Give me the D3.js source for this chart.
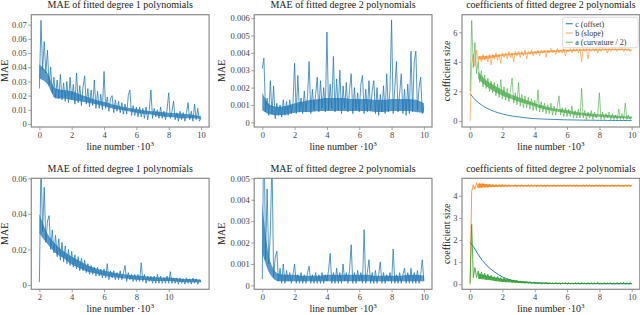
<!DOCTYPE html>
<html>
<head>
<meta charset="utf-8">
<script src="https://cdn.jsdelivr.net/npm/d3@7"></script>
<style>
  body { margin: 0; background: #fff; }
  svg { display: block; }
  text { font-family: "Liberation Serif", "Times New Roman", serif; }
</style>
</head>
<body>
<svg id="chart" width="640" height="315"></svg>
<script>
// ---- data (line number in units of 10^3) ----
// top row, MAE of degree 1 fits, values x 1e-3, lines 0..10
const topDeg1Mae = [25,73,38,58,36,52,27,40,22,33,
  19,31,18,35,17,29,16,30,15,33,
  17,28,14,36,15,27,13,26,34,14,
  25,12,24,13,31,11,23,11,21,10,
  37,11,19,9,18,20,8,17,9,16,
  8,15,7,14,7,20,24,6,13,6,
  12,5,12,5,11,4,12,3,10,24,
  4,11,5,10,4,12,4,9,3,10,
  22,4,9,16,3,8,2,9,3,8,
  2,8,15,3,9,2,14,3,11,2,
  4];
// dense core of the noise (every 0.5), x 1e-3
const topDeg1Lo = [32,28,18,18,17,16,15,14,12.5,11,10,9,8,7,6.5,5.5,5,4.5,4,4,3.5];
const topDeg1Hi = [42,36,25,24,23,21,19,17,15.5,14,12.5,11.5,10.5,9.5,9,8.5,8,7.5,7,6.5,5.5];

// top row, MAE of degree 2 fits, values x 1e-4
const topDeg2Mae = [31,37,6,14,4,24,5,21,2,11,
  4,10,3,13,4,12,4,13,5,11,
  34,5,27,6,14,5,18,6,15,35,
  5,19,7,16,26,6,24,8,20,6,
  52,7,22,8,38,6,25,7,30,5,
  21,8,23,6,19,28,5,20,7,17,
  6,22,27,5,19,6,24,7,18,24,
  5,20,4,16,6,21,5,28,6,19,
  59,5,20,35,6,17,28,5,19,4,
  22,5,41,6,35,41,7,20,26,5,
  9];
const topDeg2Lo = [7,4.5,4,4.5,5.5,6,6,6.5,6.5,6.5,6.5,6.5,6.5,6.5,6,6,6.5,6.5,6.5,6,5.5];
const topDeg2Hi = [17,10,9,9.5,11,12,13,13.5,14,14,14,13.5,13.5,13.5,13,13,13.5,13.5,13.5,13,11];

// top row coefficients
const topCoefC = [1.85,1.5,1.25,1.05,0.88,0.75,0.64,0.55,0.47,0.41,
  0.35,0.31,0.27,0.24,0.21,0.18,0.16,0.14,0.13,0.12,
  0.11,0.1,0.09,0.08,0.075,0.07,0.065,0.06,0.055,0.05,
  0.05,0.045,0.04,0.04,0.035,0.035,0.03,0.03,0.03,0.025,
  0.025];
const topCoefB = [0,3.9,4.5,3.7,4.8,4.0,4.4,4.0,4.5,4.1,
  4.4,4.0,4.5,3.8,4.5,4.2,4.6,4.1,4.5,3.9,
  4.6,4.3,4.6,4.2,4.7,4.3,4.6,4.0,4.7,4.4,
  4.7,4.3,4.7,4.4,4.8,4.2,4.7,4.5,4.8,4.4,
  4.7,4.5,4.8,4.4,4.8,4.6,4.8,4.3,4.8,4.6,
  4.9,4.6,4.8,4.5,4.9,4.6,4.8,4.6,4.9,4.4,
  4.8,4.7,4.9,4.6,4.9,4.7,4.9,4.6,4.9,4.0,
  4.9,4.7,4.9,4.2,4.9,4.7,4.9,4.7,4.9,4.6,
  4.9,4.7,4.9,4.8,4.9,4.6,4.9,4.7,4.9,4.8,
  4.9,4.7,4.9,4.8,4.9,4.7,4.9,4.8,4.9,4.7,
  4.8];
// cores from line 0.5 to 10, every 0.5
const topCoefBLo = [4.15,4.2,4.3,4.4,4.45,4.5,4.52,4.58,4.62,4.65,4.68,4.7,4.73,4.75,4.76,4.77,4.78,4.78,4.78,4.77];
const topCoefBHi = [4.4,4.42,4.47,4.52,4.57,4.62,4.64,4.7,4.74,4.76,4.8,4.82,4.83,4.86,4.86,4.87,4.88,4.88,4.88,4.84];
const topCoefA = [2.0,6.8,3.6,5.3,3.2,4.0,2.6,3.4,2.3,3.1,
  2.2,2.9,2.0,2.7,1.9,2.6,1.7,2.5,1.6,2.8,
  1.5,2.3,1.4,2.2,1.3,2.1,2.9,1.2,1.9,1.1,
  2.6,1.0,1.8,0.9,1.7,0.9,1.6,0.8,1.5,0.7,
  1.4,0.7,2.1,0.6,1.3,0.6,1.2,0.5,1.1,0.5,
  1.2,0.4,1.0,0.4,1.0,1.7,0.4,0.9,0.3,0.9,
  0.3,0.8,0.3,1.0,0.2,0.7,0.2,0.8,0.2,2.2,
  0.2,0.7,0.1,0.6,0.2,0.7,0.1,0.6,0.2,0.5,
  1.9,0.1,0.6,0.1,0.5,0.2,0.6,0.1,0.5,0.1,
  0.4,0.1,0.8,0.1,0.5,0.1,1.2,0.1,0.4,0.1,
  0.3];
const topCoefALo = [2.85,2.35,2.0,1.7,1.5,1.3,1.15,1.0,0.8,0.7,0.6,0.52,0.42,0.36,0.3,0.28,0.24,0.2,0.18,0.15];
const topCoefAHi = [3.35,2.75,2.4,2.1,1.8,1.6,1.4,1.2,1.05,0.9,0.8,0.72,0.63,0.55,0.5,0.45,0.41,0.37,0.32,0.3];

// bottom row, MAE of degree 1 fits, values x 1e-3, lines 2..12
const botDeg1Mae = [1.7,70,30,55,24,36,39,20,31,18,
  28,16,26,14,24,13,22,12,20,11,
  19,10,17,9,16,8,15,8,14,7,
  12,6,11,6,10,5,10,5,9,4,
  9,4,12,3,8,4,8,3,7,3,
  8,3,7,11,2,7,3,6,2,6,
  2,6,2,12.5,2,6,1,5,2,5,
  1,5,1,6,1,5,1,4,1,5,
  1,7.5,1,4,1,4,0.5,4,1,3.5,
  0.5,4,1,3.5,0.5,4,1,3.5,0.5,3,
  1.5];
const botDeg1Lo = [29,23,18,15,11.5,9.5,7.5,6.5,5.2,4.5,4,3.5,3,2.8,2.3,2.2,2.2,1.8,1.6,1.6,1.5];
const botDeg1Hi = [40,29,23,19,16,13.5,11,9.5,8,7.2,6.3,5.8,5.3,5,4.5,4.2,4.2,3.8,3.4,3.4,3];

// bottom row, MAE of degree 2 fits, values x 1e-4
const botDeg2Mae = [3,80,12,45,10,25,60,4,13,16,
  2,8,1,10,1,7,2,6,1,5,
  10,1,5,1,6,1,5,1,6,9,
  1,5,1,6,1,5,1,6,1,5,
  2,7,15,1,6,1,8,1,6,1,
  10,2,6,1,7,19,1,6,1,7,
  2,6,1,26,1,6,12,1,6,1,
  7,1,5,11,1,6,1,5,2,6,
  1,17,1,5,1,6,1,5,8,1,
  6,1,8,1,6,1,7,1,5,12,
  2];
const botDeg2Lo = [15,5,2,2,2,2,2,2,2,2,2,2,2,2,2,2,2,2,2,2,2];
const botDeg2Hi = [38,11,5.5,5,5,4.5,4.5,4.5,5,5,5,5,5,5,4.5,4.5,4.5,4.5,5,5,4.5];

// bottom row coefficients
const botCoefC = [1.9,1.65,1.35,1.08,0.87,0.7,0.56,0.44,0.33,0.25,
  0.19,0.15,0.12,0.1,0.08,0.07,0.06,0.055,0.05,0.045,
  0.04,0.038,0.036,0.034,0.032,0.03,0.029,0.028,0.027,0.026,
  0.025,0.024,0.023,0.022,0.022,0.021,0.021,0.02,0.02,0.02,
  0.02];
const botCoefB = [0.1,4.2,4.5,4.3,4.58,4.35,4.55,4.36,4.56,4.38,
  4.52,4.38,4.53,4.4,4.51,4.4,4.5,4.41,4.5,4.4,
  4.51,
  4.42,4.49,4.41,4.5,4.43,4.48,4.42,4.51,4.41,4.49,
  4.43,4.5,4.42,4.48,4.41,4.5,4.43,4.49,4.42,4.5,
  4.42,4.49,4.43,4.5,4.41,4.48,4.42,4.5,4.43,4.49,
  4.42,4.5,4.41,4.49,4.43,4.48,4.42,4.5,4.41,4.49,
  4.43,4.5,4.42,4.48,4.41,4.5,4.43,4.49,4.42,4.5,
  4.42,4.49,4.43,4.5,4.41,4.48,4.42,4.5,4.43,4.49,
  4.42,4.5,4.41,4.49,4.43,4.48,4.42,4.5,4.41,4.49,
  4.43,4.5,4.42,4.48,4.41,4.5,4.43,4.49,4.42,4.48];
const botCoefBLo = [4.36,4.38,4.4,4.41,4.42,4.42,4.42,4.42,4.42,4.42,4.42,4.42,4.42,4.42,4.42,4.42,4.42,4.42,4.42,4.42];
const botCoefBHi = [4.55,4.52,4.5,4.5,4.49,4.49,4.49,4.49,4.49,4.49,4.49,4.49,4.49,4.49,4.49,4.49,4.49,4.49,4.49,4.48];
const botCoefA = [0,2.7,0.3,0.75,0.3,0.6,0.25,0.55,0.3,0.5,
  0.2,0.45,0.2,0.4,0.2,0.35,0.15,0.35,0.15,0.3,
  0.12,0.28,0.1,0.25,0.1,0.22,0.08,0.2,0.07,0.18,
  0.06,0.15,0.05,0.14,0.04,0.12,0.04,0.11,0.03,0.1,
  0.02,
  0.07,0.01,0.08,0.0,0.06,0.01,0.09,0.0,0.07,0.02,
  0.06,0.0,0.08,0.01,0.07,0.0,0.06,0.02,0.08,0.0,
  0.07,0.01,0.06,0.0,0.08,0.01,0.06,0.0,0.07,0.02,
  0.06,0.0,0.07,0.01,0.08,0.0,0.06,0.01,0.09,0.0,
  0.06,0.01,0.07,0.0,0.06,0.02,0.07,0.0,0.06,0.01,
  0.07,0.0,0.06,0.01,0.08,0.0,0.06,0.01,0.07,0.02];
const botCoefALo = [0.25,0.2,0.15,0.1,0.08,0.06,0.04,0.03,0.02,0.01,0.01,0.01,0.01,0.01,0.01,0.01,0.01,0.01,0.01,0.01];
const botCoefAHi = [0.5,0.4,0.32,0.25,0.2,0.15,0.12,0.09,0.07,0.06,0.05,0.05,0.05,0.05,0.05,0.05,0.05,0.05,0.05,0.05];

// ticks
const xTicksMain = [0, 2, 4, 6, 8, 10];
const xTicksShifted = [2, 4, 6, 8, 10];
const yTicksTopDeg1 = [0, 0.01, 0.02, 0.03, 0.04, 0.05, 0.06, 0.07];
const yTicksTopDeg2 = [0, 0.001, 0.002, 0.003, 0.004, 0.005, 0.006];
const yTicksTopCoef = [0, 2, 4, 6];
const yTicksBotDeg1 = [0, 0.02, 0.04, 0.06];
const yTicksBotDeg2 = [0, 0.001, 0.002, 0.003, 0.004, 0.005];
const yTicksBotCoef = [0, 1, 2, 3, 4];

const legendLabels = ["c (offset)", "b (slope)", "a (curvature / 2)"];

const BLUE = "#1f77b4", ORANGE = "#ff7f0e", GREEN = "#2ca02c";
const SPINE = "#8a8a8a";

const svg = d3.select("#chart");
const colLeft = [31.3, 254.2, 462];
const panelW = 177.8;
const rowTop = [14.7, 178.3];
const panelH = [112.3, 111];

const zeroFmt = f => d => d === 0 ? "0" : d3.format(f)(d);

function drawPanel(p) {
  const left = colLeft[p.col], top = rowTop[p.row], h = panelH[p.row];
  const x = d3.scaleLinear().domain(p.xDomain).range([left, left + panelW]);
  const y = d3.scaleLinear().domain(p.yDomain).range([top + h, top]);
  const g = svg.append("g");

  const clipId = "clip-" + p.row + "-" + p.col;
  g.append("clipPath").attr("id", clipId)
    .append("rect").attr("x", left).attr("y", top).attr("width", panelW).attr("height", h);

  const posOf = (span, n) => i => span[0] + i * (span[1] - span[0]) / (n - 1);

  p.series.forEach(s => {
    // dense core of the noisy trace
    if (s.lo) {
      const px = posOf(s.bandSpan, s.lo.length);
      const area = d3.area()
        .x((d, i) => x(px(i)))
        .y0((d, i) => y(s.lo[i] * s.unit))
        .y1((d, i) => y(s.hi[i] * s.unit))
        .curve(d3.curveMonotoneX);
      g.append("path")
        .attr("clip-path", `url(#${clipId})`)
        .attr("d", area(s.lo))
        .attr("fill", s.color)
        .attr("fill-opacity", s.bandOpacity || 0.75);
    }
    const px = posOf(s.span, s.values.length);
    const line = d3.line()
      .x((d, i) => x(px(i)))
      .y(d => y(d * s.unit));
    g.append("path")
      .attr("clip-path", `url(#${clipId})`)
      .attr("d", line(s.values))
      .attr("fill", "none")
      .attr("stroke", s.color)
      .attr("stroke-width", s.width || 1)
      .attr("stroke-opacity", s.opacity || 1)
      .attr("stroke-linejoin", "round");
  });

  // axes
  const xAxis = d3.axisBottom(x).tickValues(p.xTicks).tickSize(3).tickPadding(2).tickFormat(d3.format("d"));
  const yAxis = d3.axisLeft(y).tickValues(p.yTicks).tickSize(3).tickPadding(1.5).tickFormat(p.yFormat);

  const gx = g.append("g").attr("transform", `translate(0,${top + h})`).call(xAxis);
  const gy = g.append("g").attr("transform", `translate(${left},0)`).call(yAxis);
  [gx, gy].forEach(a => {
    a.select(".domain").remove();
    a.selectAll(".tick line").attr("stroke", SPINE).attr("stroke-width", 0.8);
    a.selectAll(".tick text").attr("fill", "#444").style("font-size", "8.5px")
      .style("font-family", '"Liberation Serif", serif');
  });

  // frame
  g.append("rect")
    .attr("x", left).attr("y", top).attr("width", panelW).attr("height", h)
    .attr("fill", "none").attr("stroke", SPINE).attr("stroke-width", 1.2);

  // title
  g.append("text")
    .attr("x", left + panelW / 2).attr("y", top - 6.4)
    .attr("text-anchor", "middle").attr("fill", "#222")
    .style("font-size", "10px").text(p.title);

  // x label
  const xl = g.append("text")
    .attr("x", left + panelW / 2).attr("y", top + h + 23)
    .attr("text-anchor", "middle").attr("fill", "#222")
    .style("font-size", "10px").text("line number \u00b710");
  xl.append("tspan").attr("dy", -4).style("font-size", "7px").text("3");

  // y label
  g.append("text")
    .attr("transform", `translate(${p.yLabelX},${top + h / 2}) rotate(-90)`)
    .attr("text-anchor", "middle").attr("dy", "0.35em").attr("fill", "#222")
    .style("font-size", "10px").text(p.yLabel);

  if (p.legend) {
    const lx = 562.7, ly = 17.3;
    g.append("rect").attr("x", lx).attr("y", ly).attr("width", 75.5).attr("height", 30.4)
      .attr("rx", 2).attr("fill", "#fff").attr("fill-opacity", 0.85)
      .attr("stroke", "#d0d0d0").attr("stroke-width", 0.8);
    p.series.forEach((s, i) => {
      const cy = ly + 6.4 + i * 9.3;
      g.append("line").attr("x1", lx + 3).attr("x2", lx + 10).attr("y1", cy).attr("y2", cy)
        .attr("stroke", s.color).attr("stroke-width", 1.2).attr("stroke-opacity", s.opacity || 1);
      g.append("text").attr("x", lx + 12.5).attr("y", cy).attr("dy", "0.35em")
        .attr("fill", "#333").style("font-size", "8px").text(legendLabels[i]);
    });
  }
}

const mainSpan = [0, 10];
const mainDomain = [-0.5, 10.5];
const coreSpan = [0.5, 10];

drawPanel({
  row: 0, col: 0, title: "MAE of fitted degree 1 polynomials", yLabel: "MAE", yLabelX: 4.5,
  xDomain: mainDomain, yDomain: [-0.0021, 0.077], xTicks: xTicksMain, yTicks: yTicksTopDeg1, yFormat: zeroFmt(".2f"),
  series: [{ values: topDeg1Mae, lo: topDeg1Lo, hi: topDeg1Hi, bandSpan: mainSpan, unit: 1e-3, span: mainSpan,
             color: BLUE, width: 0.9, opacity: 0.85 }]
});
drawPanel({
  row: 0, col: 1, title: "MAE of fitted degree 2 polynomials", yLabel: "MAE", yLabelX: 221.7,
  xDomain: mainDomain, yDomain: [-0.00027, 0.0062], xTicks: xTicksMain, yTicks: yTicksTopDeg2, yFormat: zeroFmt(".3f"),
  series: [{ values: topDeg2Mae, lo: topDeg2Lo, hi: topDeg2Hi, bandSpan: mainSpan, unit: 1e-4, span: mainSpan,
             color: BLUE, width: 0.9, opacity: 0.85 }]
});
drawPanel({
  row: 0, col: 2, title: "coefficients of fitted degree 2 polynomials", yLabel: "coefficient size", yLabelX: 446.7,
  xDomain: mainDomain, yDomain: [-0.41, 7.19], xTicks: xTicksMain, yTicks: yTicksTopCoef, yFormat: d3.format("d"),
  legend: true,
  series: [
    { values: topCoefC, unit: 1, span: mainSpan, color: BLUE, width: 1, opacity: 0.85 },
    { values: topCoefB, lo: topCoefBLo, hi: topCoefBHi, bandSpan: coreSpan, bandOpacity: 0.6,
      unit: 1, span: mainSpan, color: ORANGE, width: 0.9, opacity: 0.6 },
    { values: topCoefA, lo: topCoefALo, hi: topCoefAHi, bandSpan: coreSpan, bandOpacity: 0.6,
      unit: 1, span: mainSpan, color: GREEN, width: 0.9, opacity: 0.6 }
  ]
});
drawPanel({
  row: 1, col: 0, title: "MAE of fitted degree 1 polynomials", yLabel: "MAE", yLabelX: 4.2,
  xDomain: [1.5, 12.5], yDomain: [-0.0024, 0.06], xTicks: xTicksShifted, yTicks: yTicksBotDeg1, yFormat: zeroFmt(".2f"),
  series: [{ values: botDeg1Mae, lo: botDeg1Lo, hi: botDeg1Hi, bandSpan: [2, 12], unit: 1e-3, span: [2, 12],
             color: BLUE, width: 0.9, opacity: 0.85 }]
});
drawPanel({
  row: 1, col: 1, title: "MAE of fitted degree 2 polynomials", yLabel: "MAE", yLabelX: 221.7,
  xDomain: mainDomain, yDomain: [-0.00018, 0.005], xTicks: xTicksMain, yTicks: yTicksBotDeg2, yFormat: zeroFmt(".3f"),
  series: [{ values: botDeg2Mae, lo: botDeg2Lo, hi: botDeg2Hi, bandSpan: mainSpan, unit: 1e-4, span: mainSpan,
             color: BLUE, width: 0.9, opacity: 0.85 }]
});
drawPanel({
  row: 1, col: 2, title: "coefficients of fitted degree 2 polynomials", yLabel: "coefficient size", yLabelX: 446.7,
  xDomain: mainDomain, yDomain: [-0.23, 4.79], xTicks: xTicksMain, yTicks: yTicksBotCoef, yFormat: d3.format("d"),
  series: [
    { values: botCoefC, unit: 1, span: mainSpan, color: BLUE, width: 1 },
    { values: botCoefB, lo: botCoefBLo, hi: botCoefBHi, bandSpan: coreSpan, bandOpacity: 0.8,
      unit: 1, span: mainSpan, color: ORANGE, width: 0.8 },
    { values: botCoefA, lo: botCoefALo, hi: botCoefAHi, bandSpan: coreSpan, bandOpacity: 0.8,
      unit: 1, span: mainSpan, color: GREEN, width: 0.8 }
  ]
});
</script>
</body>
</html>
